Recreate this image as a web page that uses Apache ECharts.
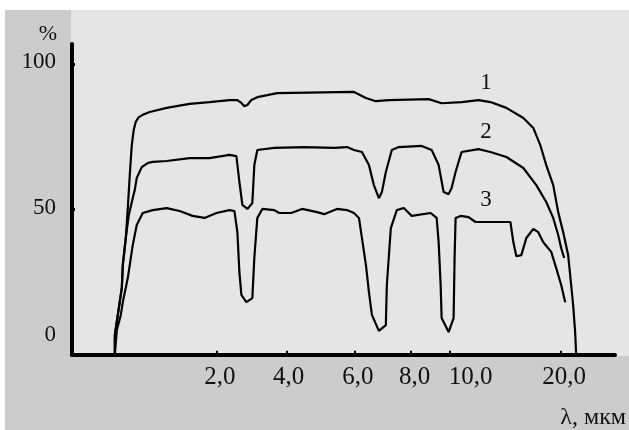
<!DOCTYPE html>
<html>
<head>
<meta charset="utf-8">
<script src="https://cdn.jsdelivr.net/npm/echarts@6/dist/echarts.min.js"></script>
<style>
  html, body { margin: 0; padding: 0; background: #fff; }
  #chart { width: 629px; height: 430px; }
</style>
</head>
<body>
<div id="chart"></div>
<script>
// x is the position along the drawn axis (the original axis is not a regular scale)
var xTickPos = [145, 215.7, 283.7, 340, 379, 490.7];
var xLabelPos = [148.5, 217.5, 287, 344, 400, 494];
var xLabels = ["2,0", "4,0", "6,0", "8,0", "10,0", "20,0"];
var yTicks = [0, 50, 100];
var seriesNames = ["1", "2", "3"];

var curve1 = [
  [43, 0], [43, 6.8], [46, 13.7], [50, 23.0], [51, 30.9], [54, 40.2], [56, 50.5],
  [58, 61.9], [60, 72.2], [62, 77.5], [64, 80.2], [67, 81.8], [71, 82.6], [78, 83.6], [95, 85.0],
  [118, 86.4], [138, 87.0], [158, 87.7], [166, 87.7], [170, 86.7], [173, 85.6],
  [176, 86.0], [180, 87.7], [186, 88.7], [206, 90.1], [283, 90.5], [295, 88.4],
  [305, 87.3], [318, 87.7], [358, 88.0], [371, 86.6], [391, 87.0], [408, 87.7],
  [420, 87.0], [436, 85.0], [453, 81.5], [463, 78.1], [470, 72.2], [476, 65.3],
  [483, 58.4], [488, 49.1], [493, 42.2], [498, 34.3], [501, 24.0], [503, 17.1],
  [505, 7.8], [506, 0]
];

var curve2 = [
  [43, 0], [43, 6.8], [46, 13.7], [50, 23.0], [51, 30.9], [54, 40.2], [57, 48.1],
  [61, 54.0], [63, 56.7], [65, 60.9], [70, 64.6], [76, 66.0], [81, 66.4], [95, 66.7],
  [118, 67.7], [138, 67.7], [158, 68.8], [165, 68.4], [168, 59.5], [171, 51.6],
  [176, 50.2], [181, 52.2], [183, 65.3], [186, 70.5], [203, 71.2], [233, 71.5],
  [263, 71.2], [276, 71.5], [283, 70.5], [291, 69.8], [298, 65.3], [303, 58.4],
  [308, 53.9], [311, 56.0], [315, 62.9], [321, 70.5], [328, 71.5], [351, 71.9],
  [361, 70.5], [368, 65.3], [373, 56.0], [378, 55.3], [381, 57.4], [385, 62.9],
  [391, 69.8], [408, 70.8], [420, 69.8], [436, 68.1], [453, 64.3], [466, 58.4],
  [476, 52.6], [483, 47.1], [488, 41.2], [491, 36.7], [494, 33.3]
];

var curve3 = [
  [43, 0], [45, 8.5], [49, 13.7], [51, 18.1], [56, 26.4], [61, 37.8], [65, 44.7],
  [71, 48.8], [81, 49.8], [95, 50.5], [108, 49.5], [121, 47.8], [133, 47.1],
  [145, 48.8], [158, 49.8], [163, 49.5], [166, 42.2], [168, 28.5], [170, 20.6],
  [175, 18.1], [181, 19.5], [183, 33.3], [186, 47.1], [191, 50.2], [203, 49.8],
  [208, 48.8], [220, 48.8], [231, 50.2], [246, 49.1], [253, 48.4], [266, 50.2],
  [276, 49.8], [283, 48.8], [288, 47.1], [291, 40.2], [295, 30.9], [298, 21.6],
  [301, 13.7], [308, 8.2], [315, 10.2], [316, 24.0], [320, 43.6], [326, 49.8],
  [333, 50.5], [341, 47.8], [360, 48.8], [366, 47.1], [368, 38.7], [370, 24.0],
  [371, 12.6], [378, 7.8], [383, 12.6], [384, 33.3], [385, 47.1], [390, 47.8],
  [398, 47.4], [405, 45.7], [426, 45.7], [440, 45.7], [443, 38.7], [446, 33.9],
  [451, 34.3], [456, 40.2], [463, 43.3], [468, 42.2], [473, 38.7], [481, 35.4],
  [486, 29.8], [491, 24.0], [495, 18.1]
];

var chart = echarts.init(document.getElementById("chart"));
var serif = "Liberation Serif";
var ink = "#111";

function curveSeries(name, data, labelY) {
  return {
    name: name,
    type: "line",
    data: data,
    showSymbol: false,
    lineStyle: { color: "#000", width: 2.2 },
    markPoint: {
      symbol: "rect",
      symbolSize: 0,
      silent: true,
      label: {
        show: true,
        position: "inside",
        formatter: name,
        color: ink,
        fontFamily: serif,
        fontSize: 23
      },
      data: [{ coord: [415.5, labelY] }]
    }
  };
}

var option = {
  animation: false,
  backgroundColor: "transparent",
  graphic: [
    { type: "rect", z: -100, shape: { x: 5, y: 10, width: 624, height: 420 }, style: { fill: "#cccccc" } },
    { type: "rect", z: -99, shape: { x: 71, y: 10, width: 558, height: 346 }, style: { fill: "#e5e5e5" } }
  ],
  grid: { left: 72, right: 12, top: 44, bottom: 75.3 },
  xAxis: {
    type: "value",
    min: 0,
    max: 545,
    name: "λ, мкм",
    nameLocation: "end",
    nameGap: 11,
    nameTextStyle: {
      align: "right",
      verticalAlign: "top",
      padding: [51, 0, 0, 0],
      color: ink,
      fontFamily: serif,
      fontSize: 24
    },
    axisLine: { lineStyle: { color: "#000", width: 4 } },
    axisTick: {
      inside: true,
      length: 4,
      customValues: xTickPos,
      lineStyle: { color: "#000", width: 2 }
    },
    axisLabel: {
      customValues: xLabelPos,
      margin: 10,
      color: ink,
      fontFamily: serif,
      fontSize: 25,
      formatter: function (v) {
        var i = xLabelPos.indexOf(v);
        return i >= 0 ? xLabels[i] : "";
      }
    },
    splitLine: { show: false }
  },
  yAxis: {
    type: "value",
    min: 0,
    max: 107,
    name: "%",
    nameLocation: "end",
    nameGap: -1,
    nameTextStyle: {
      align: "center",
      padding: [0, 48, 0, 0],
      color: ink,
      fontFamily: serif,
      fontSize: 22
    },
    axisLine: { lineStyle: { color: "#000", width: 4 } },
    axisTick: {
      inside: true,
      length: 3,
      customValues: yTicks,
      lineStyle: { color: "#000", width: 3 }
    },
    axisLabel: {
      customValues: yTicks,
      margin: 16,
      color: ink,
      fontFamily: serif,
      fontSize: 23,
      formatter: function (v) {
        return v === 0 ? "{lo|" + v + "}" : "{n|" + v + "}";
      },
      rich: {
        lo: { padding: [0, 0, 40, 0], fontFamily: serif, fontSize: 23, color: ink },
        n: { padding: [0, 0, 4, 0], fontFamily: serif, fontSize: 23, color: ink }
      }
    },
    splitLine: { show: false }
  },
  series: [
    curveSeries(seriesNames[0], curve1, 93.6),
    curveSeries(seriesNames[1], curve2, 76.7),
    curveSeries(seriesNames[2], curve3, 53.3)
  ]
};

chart.setOption(option);
</script>
</body>
</html>
